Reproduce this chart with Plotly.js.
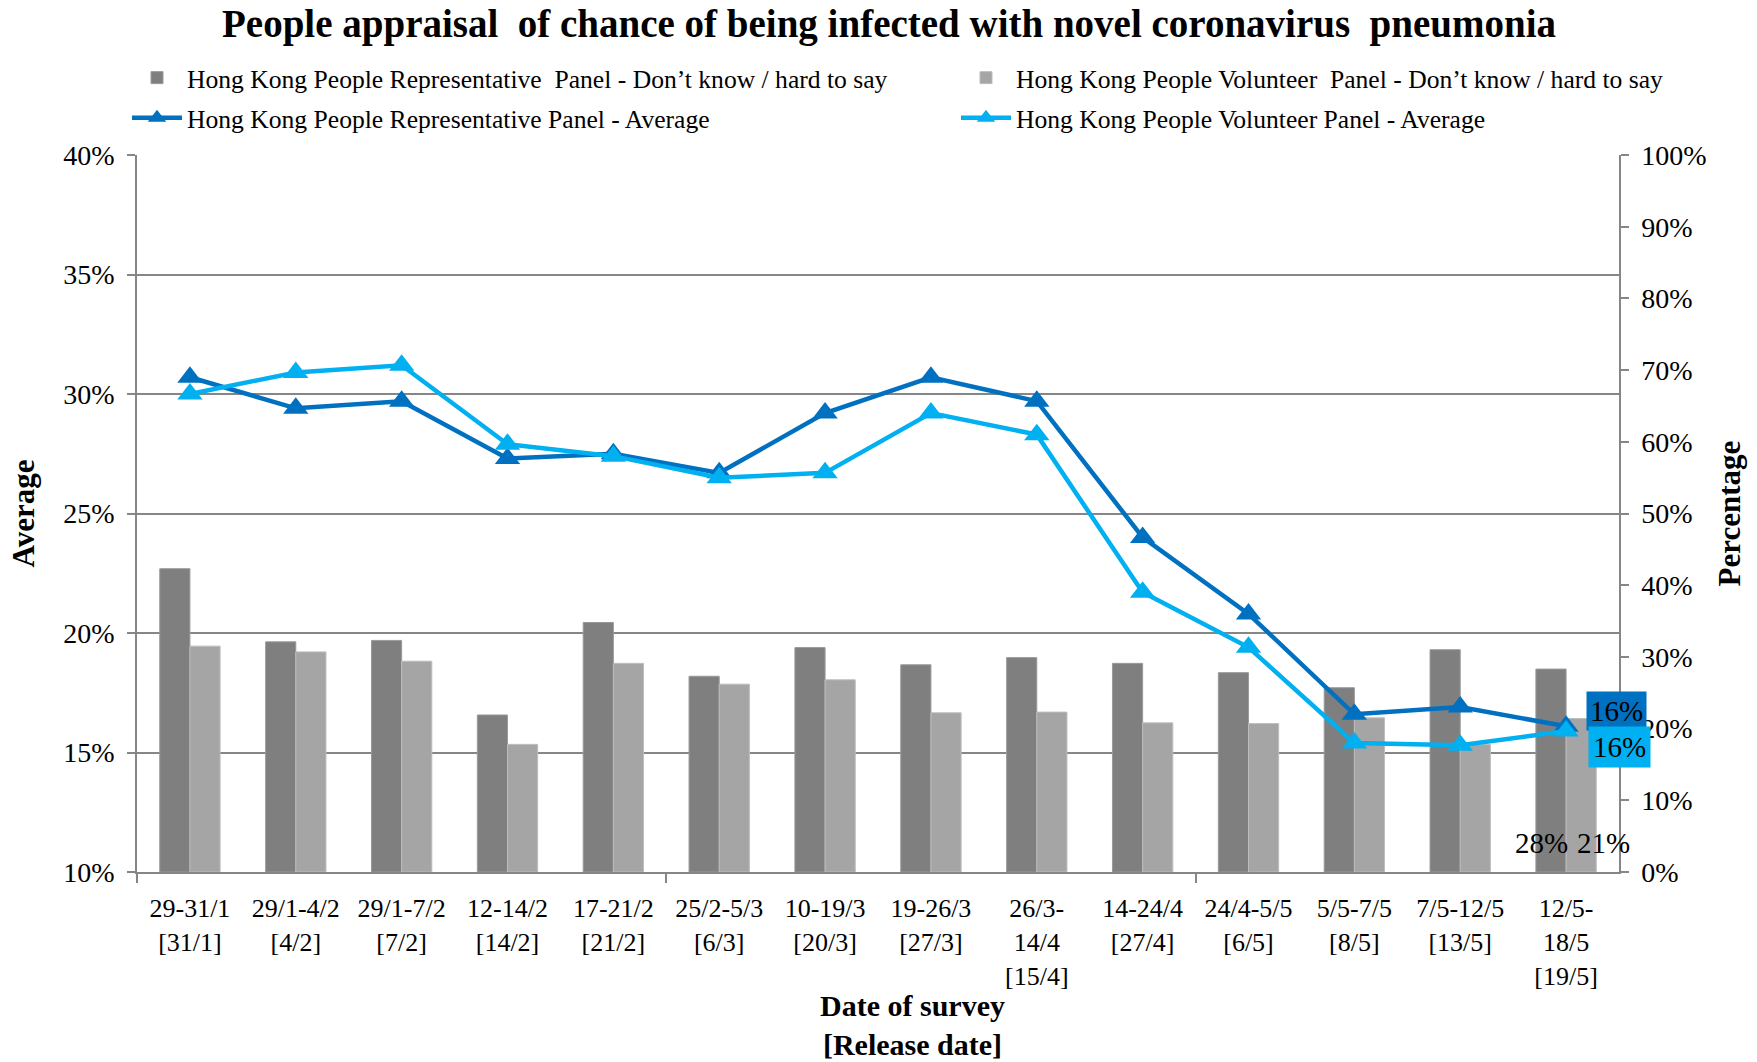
<!DOCTYPE html>
<html>
<head>
<meta charset="utf-8">
<script src="https://cdn.plot.ly/plotly-3.0.1.min.js"></script>
<style>html,body{margin:0;padding:0;background:#fff;}#chart{width:1757px;height:1062px;}</style>
</head>
<body>
<div id="chart"></div>
<script>
const categories = [
  "29-31/1<br>[31/1]", "29/1-4/2<br>[4/2]", "29/1-7/2<br>[7/2]", "12-14/2<br>[14/2]",
  "17-21/2<br>[21/2]", "25/2-5/3<br>[6/3]", "10-19/3<br>[20/3]", "19-26/3<br>[27/3]",
  "26/3-<br>14/4<br>[15/4]", "14-24/4<br>[27/4]", "24/4-5/5<br>[6/5]", "5/5-7/5<br>[8/5]",
  "7/5-12/5<br>[13/5]", "12/5-<br>18/5<br>[19/5]"
];
// Percentage (right axis) – Don't know / hard to say
const repDontKnow = [42.3, 32.1, 32.3, 21.9, 34.8, 27.3, 31.3, 28.9, 29.9, 29.1, 27.8, 25.7, 31.0, 28.3];
const volDontKnow = [31.5, 30.7, 29.4, 17.8, 29.1, 26.2, 26.8, 22.2, 22.3, 20.8, 20.7, 21.5, 17.8, 21.4];
// Average (left axis)
const repAverage = [30.7, 29.4, 29.7, 27.3, 27.5, 26.7, 29.2, 30.7, 29.7, 24.0, 20.8, 16.6, 16.9, 16.1];
const volAverage = [30.0, 30.9, 31.2, 27.9, 27.4, 26.5, 26.7, 29.2, 28.3, 21.7, 19.4, 15.4, 15.3, 15.9];

const seriesNames = [
  "Hong Kong People Representative\u00A0 Panel - Don\u2019t know / hard to say",
  "Hong Kong People Volunteer\u00A0 Panel - Don\u2019t know / hard to say",
  "Hong Kong People Representative Panel - Average",
  "Hong Kong People Volunteer Panel - Average"
];

const idx = categories.map((_, i) => i);
const last = categories.length - 1;
const serif = "Liberation Serif, Times New Roman, serif";
const axisGray = "#868686";

const traces = [
  {type: "bar", name: seriesNames[0], x: idx, y: repDontKnow, yaxis: "y",
   marker: {color: "#7F7F7F", line: {color: "#9A9A9A", width: 1}}, legend: "legend"},
  {type: "bar", name: seriesNames[1], x: idx, y: volDontKnow, yaxis: "y",
   marker: {color: "#A5A5A5", line: {color: "#BDBDBD", width: 1}}, legend: "legend2"},
  {type: "scatter", mode: "lines+markers", name: seriesNames[2], x: idx, y: repAverage, yaxis: "y2",
   line: {color: "#0070C0", width: 4.5}, marker: {symbol: "triangle-up", size: 22, color: "#0070C0"}, legend: "legend3"},
  {type: "scatter", mode: "lines+markers", name: seriesNames[3], x: idx, y: volAverage, yaxis: "y2",
   line: {color: "#00B0F0", width: 4.5}, marker: {symbol: "triangle-up", size: 22, color: "#00B0F0"}, legend: "legend4"}
];

const pct = v => Math.round(v) + "%";
const lblFont = {family: serif, size: 29, color: "#000"};

const annotations = [
  {x: last, y: repAverage[last], xref: "x", yref: "y2", text: pct(repAverage[last]), showarrow: false,
   xshift: 50, yshift: 15, bgcolor: "#0070C0", font: lblFont, borderpad: 3},
  {x: last, y: volAverage[last], xref: "x", yref: "y2", text: pct(volAverage[last]), showarrow: false,
   xshift: 53, yshift: -16, bgcolor: "#00B0F0", font: lblFont, borderpad: 4},
  {x: last, y: 4, xref: "x", yref: "y", text: pct(repDontKnow[last]), showarrow: false,
   xshift: -25, font: lblFont},
  {x: last, y: 4, xref: "x", yref: "y", text: pct(volDontKnow[last]), showarrow: false,
   xshift: 37, font: lblFont},
  {x: (913 - 137) / (1757 - 137 - 138), y: -(1025 - 872) / (872 - 155), xref: "paper", yref: "paper",
   xanchor: "center", yanchor: "middle",
   text: "<b>Date of survey</b><br><b>[Release date]</b>", showarrow: false,
   font: {family: serif, size: 30, color: "#000"}}
];

function legendAt(xpx, ypx) {
  return {orientation: "h", xref: "container", yref: "container", x: xpx / 1757, y: 1 - ypx / 1062,
          xanchor: "left", yanchor: "middle", itemwidth: 50,
          font: {family: serif, size: 25.6, color: "#000"}, bgcolor: "rgba(0,0,0,0)"};
}

const layout = {
  width: 1757, height: 1062,
  margin: {l: 137, r: 138, t: 155, b: 190},
  paper_bgcolor: "#fff", plot_bgcolor: "#fff",
  font: {family: serif, color: "#000"},
  title: {text: "People appraisal\u00A0 of chance of being infected with novel coronavirus\u00A0 pneumonia",
          font: {family: serif, size: 39, weight: "bold", color: "#000"},
          x: 0.506, xanchor: "center", y: 1 - 23/1062, yanchor: "middle", xref: "container", yref: "container"},
  barmode: "group", bargap: 0.43, bargroupgap: 0,
  xaxis: {
    range: [-0.5, last + 0.5], tickmode: "array", tickvals: idx, ticktext: categories,
    ticks: "", showline: true, linecolor: axisGray, linewidth: 1.5, showgrid: false, zeroline: false,
    tickfont: {family: serif, size: 26, color: "#000"}, ticklabelstandoff: 12,
    minor: {tickmode: "array", tickvals: [-0.5, 4.5, 9.5], ticks: "outside", ticklen: 9, tickcolor: axisGray, tickwidth: 1.5, showgrid: false}
  },
  yaxis: {
    side: "right", range: [0, 100], dtick: 10, tick0: 0, ticksuffix: "%",
    showgrid: false, zeroline: false, showline: true, linecolor: axisGray, linewidth: 1.5,
    ticks: "outside", ticklen: 8, tickcolor: axisGray, tickwidth: 1.5,
    tickfont: {family: serif, size: 28, color: "#000"}, ticklabelstandoff: 7,
    title: {text: "Percentage", font: {family: serif, size: 31, weight: "bold", color: "#000"}, standoff: 13}
  },
  yaxis2: {
    overlaying: "y", side: "left", range: [10, 40], dtick: 5, tick0: 10, ticksuffix: "%",
    showgrid: true, gridcolor: axisGray, gridwidth: 1.5, zeroline: false,
    showline: true, linecolor: axisGray, linewidth: 1.5,
    ticks: "outside", ticklen: 8, tickcolor: axisGray, tickwidth: 1.5,
    tickfont: {family: serif, size: 28, color: "#000"}, ticklabelstandoff: 7,
    title: {text: "Average", font: {family: serif, size: 31, weight: "bold", color: "#000"}, standoff: 19}
  },
  legend: legendAt(127, 78),
  legend2: legendAt(956, 78),
  legend3: legendAt(127, 118),
  legend4: legendAt(956, 118),
  annotations: annotations,
  showlegend: true
};

Plotly.newPlot("chart", traces, layout, {displayModeBar: false, responsive: false});
</script>
</body>
</html>
